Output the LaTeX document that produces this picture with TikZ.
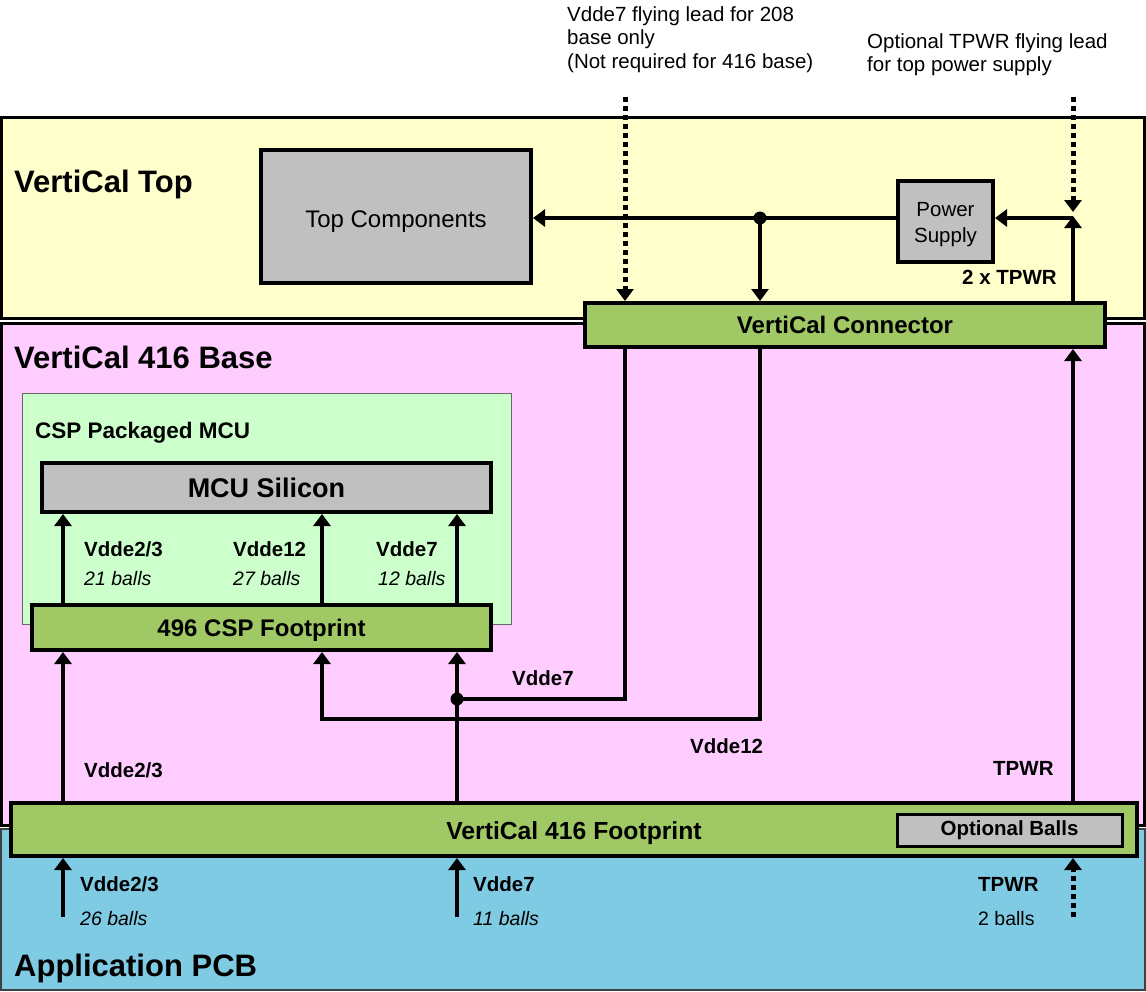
\documentclass[tikz,border=0pt]{standalone}
\usepackage{fontspec}
\setmainfont{Liberation Sans}
\usetikzlibrary{arrows.meta, positioning}
\definecolor{topyellow}{RGB}{255,255,204}
\definecolor{basepink}{RGB}{255,204,255}
\definecolor{pcbblue}{RGB}{128,203,228}
\definecolor{padgreen}{RGB}{160,200,100}
\definecolor{cspgreen}{RGB}{204,255,204}
\definecolor{partgrey}{RGB}{192,192,192}

\tikzset{
  box/.style={draw=black, line width=4pt, fill=partgrey, inner sep=0pt},
  pad/.style={box, fill=padgreen},
  wire/.style={line width=4.5pt},
  lead/.style={line width=5pt, dash pattern=on 5pt off 4pt},
  tip/.style={-{Triangle[width=17pt,length=12pt]}},
  title/.style={font=\fontsize{31}{34}\selectfont\bfseries, anchor=base west, inner sep=0pt},
  lbl/.style={font=\fontsize{20.5}{24}\selectfont\bfseries, anchor=base west, inner sep=0pt},
  balls/.style={font=\fontsize{19.5}{24}\selectfont\itshape, anchor=base west, inner sep=0pt},
  note/.style={font=\fontsize{20.5}{23.5}\selectfont, align=left, anchor=north west, inner sep=0pt}
}

\begin{document}
\begin{tikzpicture}[x=1pt,y=-1pt]
  \useasboundingbox (0,0) rectangle (1146,991);

  % Layers
  \draw[line width=3pt, fill=topyellow] (1.5,117.5) rectangle (1144.5,318.5);
  \draw[line width=3pt, fill=basepink] (1.5,323.5) rectangle (1144.5,825);
  \draw[line width=1.5pt, draw=black!75, fill=pcbblue] (1,829) rectangle (1145,990);
  \node[title] (toptitle) at (14,192) {VertiCal Top};
  \node[title] (basetitle) at (14,368) {VertiCal 416 Base};
  \node[title] (pcbtitle) at (14,976) {Application PCB};

  % Notes above the top
  \node[note] (note7) at (567,6) {Vdde7 flying lead for 208\\base only\\(Not required for 416 base)};
  \node[note] (notet) at (867,33) {Optional TPWR flying lead\\for top power supply};

  % Top parts
  \node[box, minimum width=270pt, minimum height=133pt, text height=22pt, text depth=0pt,
        font=\fontsize{24}{28}\selectfont] (tc) at (396,216.5) {Top Components};
  \node[box, minimum width=95pt, minimum height=81pt,
        label={[align=center, yshift=-3pt, font=\fontsize{20.5}{26}\selectfont]center:Power\\Supply}]
        (ps) at (945.5,221.5) {};
  \node[pad, minimum width=520pt, minimum height=44pt,
        font=\fontsize{24}{28}\selectfont\bfseries] (conn) at (845,325) {VertiCal Connector};
  \node[lbl] (tpwr2) at (962,284) {2 x TPWR};

  % CSP package
  \draw[line width=1pt, draw=black!60, fill=cspgreen] (22,393) rectangle (511,624);
  \node[lbl, font=\fontsize{22.5}{26}\selectfont\bfseries] (csptitle) at (35,438) {CSP Packaged MCU};
  \node[box, minimum width=449pt, minimum height=49pt,
        font=\fontsize{27}{30}\selectfont\bfseries] (mcu) at (266.5,487.5) {MCU Silicon};
  \node[pad, minimum width=459pt, minimum height=45pt, text height=18pt, text depth=0pt,
        font=\fontsize{24}{28}\selectfont\bfseries] (fp496) at (261.5,627.5) {496 CSP Footprint};
  \node[lbl] (c23) at (84,556) {Vdde2/3};
  \node[balls] (c23n) at (84,585) {21 balls};
  \node[lbl] (c12) at (233,556) {Vdde12};
  \node[balls] (c12n) at (233,585) {27 balls};
  \node[lbl] (c7) at (376,556) {Vdde7};
  \node[balls] (c7n) at (378,585) {12 balls};

  % Base footprint
  \node[pad, minimum width=1126pt, minimum height=53pt, text height=20pt, text depth=0pt,
        font=\fontsize{24.7}{28}\selectfont\bfseries] (fp416) at (574,829.5) {VertiCal 416 Footprint};
  \node[box, line width=3pt, minimum width=225pt, minimum height=32pt,
        font=\fontsize{20.5}{24}\selectfont\bfseries] (opt) at (1009.5,830) {Optional Balls};
  \node[lbl] (b7) at (512,685) {Vdde7};
  \node[lbl] (b12) at (690,753) {Vdde12};
  \node[lbl] (b23) at (84,777) {Vdde2/3};
  \node[lbl] (btp) at (993,775) {TPWR};

  % PCB labels
  \node[lbl] (p23) at (80,891) {Vdde2/3};
  \node[balls] (p23n) at (80,925) {26 balls};
  \node[lbl] (p7) at (473,891) {Vdde7};
  \node[balls] (p7n) at (473,925) {11 balls};
  \node[lbl] (ptp) at (978,891) {TPWR};
  \node[balls, font=\fontsize{19.5}{24}\selectfont] (ptpn) at (978,925) {2 balls};

  % Columns and bends
  \coordinate (c1) at (63,0);
  \coordinate (v12) at (322,719);
  \coordinate (v7) at (457,699);
  \coordinate (la) at (625,97);
  \coordinate (jn) at (760,218);
  \coordinate (tj) at (1073,218);
  \coordinate (tjup) at (1073,216);
  \coordinate (tjdn) at (1073,212);
  \coordinate (lt) at (1073,97);
  \coordinate (pa) at (63,917);
  \coordinate (pb) at (457,917);
  \coordinate (pt) at (1073,917);

  % Top wiring
  \draw[wire,tip] (tj) -- (ps.east |- tj);
  \draw[wire,tip] (ps.west |- tj) -- (tc.east |- tj);
  \draw[wire,tip] (jn) -- (conn.north -| jn);
  \fill (jn) circle (6.5pt);
  \draw[lead,tip] (la) -- (conn.north -| la);
  \draw[lead,tip] (lt) -- (tjdn);
  \draw[wire,tip] (conn.north -| tj) -- (tjup);

  % Base wiring
  \draw[wire,tip] (fp416.north -| tj) -- (conn.south -| tj);
  \draw[wire,tip] (conn.south -| jn) |- (v12) -- (fp496.south -| v12);
  \draw[wire] (conn.south -| la) |- (v7);
  \draw[wire,tip] (fp416.north -| v7) -- (fp496.south -| v7);
  \fill (v7) circle (6.5pt);
  \draw[wire,tip] (fp416.north -| c1) -- (fp496.south -| c1);
  \foreach \col in {c1, v12, v7}
    \draw[wire,tip] (fp496.north -| \col) -- (mcu.south -| \col);

  % PCB wiring
  \draw[wire,tip] (pa) -- (fp416.south -| pa);
  \draw[wire,tip] (pb) -- (fp416.south -| pb);
  \draw[lead,tip] (pt) -- (fp416.south -| pt);
\end{tikzpicture}
\end{document}
